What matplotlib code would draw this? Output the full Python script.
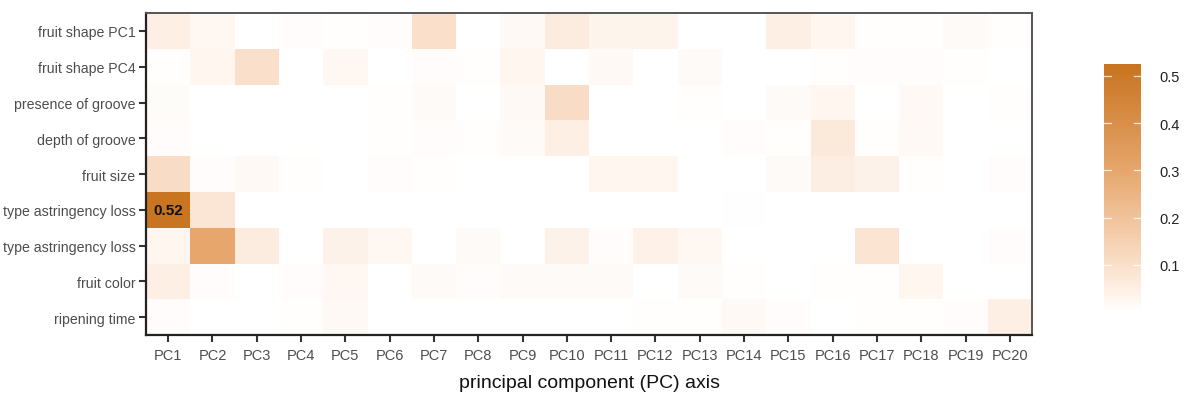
import numpy as np
import matplotlib
matplotlib.use("Agg")
import matplotlib.pyplot as plt
from matplotlib.colors import LinearSegmentedColormap, Normalize
import matplotlib.cm as cm

plt.rcParams['font.family'] = ['Liberation Sans', 'DejaVu Sans']

traits = ["fruit shape PC1", "fruit shape PC4", "presence of groove", "depth of groove",
          "fruit size", "type astringency loss", "type astringency loss", "fruit color",
          "ripening time"]
pcs = [f"PC{i}" for i in range(1, 21)]

row_shape_pc1 = [0.05, 0.025, 0.0, 0.01, 0.005, 0.01, 0.10, 0.0, 0.02, 0.06, 0.035, 0.035, 0.0, 0.0, 0.05, 0.03, 0.005, 0.005, 0.015, 0.005]
row_shape_pc4 = [0.005, 0.03, 0.10, 0.0, 0.025, 0.0, 0.01, 0.005, 0.03, 0.0, 0.02, 0.0, 0.015, 0.0, 0.0, 0.005, 0.01, 0.01, 0.005, 0.0]
row_groove_pres = [0.012, 0.0, 0.0, 0.0, 0.0, 0.005, 0.015, 0.0, 0.02, 0.11, 0.0, 0.0, 0.005, 0.0, 0.015, 0.03, 0.0, 0.02, 0.0, 0.005]
row_groove_depth = [0.01, 0.0, 0.0, 0.0, 0.0, 0.005, 0.01, 0.005, 0.015, 0.05, 0.0, 0.0, 0.0, 0.01, 0.005, 0.07, 0.005, 0.02, 0.0, 0.0]
row_size = [0.11, 0.01, 0.02, 0.005, 0.0, 0.01, 0.005, 0.0, 0.0, 0.0, 0.03, 0.03, 0.0, 0.0, 0.015, 0.055, 0.04, 0.005, 0.0, 0.01]
row_astr1 = [0.52, 0.08, 0.0, 0.0, 0.0, 0.0, 0.0, 0.0, 0.0, 0.0, 0.0, 0.0, 0.0, 0.003, 0.0, 0.0, 0.0, 0.0, 0.0, 0.0]
row_astr2 = [0.03, 0.30, 0.06, 0.0, 0.04, 0.025, 0.0, 0.015, 0.0, 0.04, 0.01, 0.045, 0.025, 0.0, 0.0, 0.0, 0.085, 0.0, 0.0, 0.01]
row_color = [0.05, 0.01, 0.0, 0.01, 0.025, 0.0, 0.015, 0.01, 0.015, 0.015, 0.015, 0.0, 0.015, 0.005, 0.0, 0.005, 0.005, 0.03, 0.0, 0.0]
row_ripen = [0.01, 0.0, 0.0, 0.005, 0.02, 0.0, 0.0, 0.0, 0.0, 0.0, 0.0, 0.005, 0.005, 0.02, 0.01, 0.0, 0.005, 0.005, 0.01, 0.05]

data = np.array([row_shape_pc1, row_shape_pc4, row_groove_pres, row_groove_depth, row_size,
                 row_astr1, row_astr2, row_color, row_ripen])

vmin, vmax = 0.0, 0.525
cmap = LinearSegmentedColormap.from_list(
    "wo", [(0.0, "#FFFFFF"), (0.1 / vmax, "#FADFC9"), (0.3 / vmax, "#E6A66C"), (1.0, "#C8731F")])
norm = Normalize(vmin=vmin, vmax=vmax)

fig = plt.figure(figsize=(12, 4.02), dpi=100)
ax = fig.add_axes([0.1217, 0.164, 0.7383, 0.801])

nr, nc = data.shape
ax.pcolormesh(np.arange(nc + 1) - 0.5, np.arange(nr + 1) - 0.5, data, cmap=cmap, norm=norm)
ax.set_xlim(-0.5, nc - 0.5)
ax.set_ylim(nr - 0.5, -0.5)

ax.set_xticks(range(nc))
ax.set_xticklabels(pcs, fontsize=10.5, color="#4D4D4D")
ax.set_yticks(range(nr))
ax.set_yticklabels(traits, fontsize=10.2, color="#4D4D4D")
ax.tick_params(axis="both", length=5, width=1.5, color="#333333")
ax.tick_params(axis="y", pad=2.5)
ax.tick_params(axis="x", pad=4)

ax.set_xlabel("principal component (PC) axis", fontsize=14, color="#111111", labelpad=9)

for s in ["left", "bottom"]:
    ax.spines[s].set_linewidth(1.6)
    ax.spines[s].set_color("#222222")
for s in ["top", "right"]:
    ax.spines[s].set_linewidth(1.4)
    ax.spines[s].set_color("#555555")

# annotate max cell
i, j = np.unravel_index(np.argmax(data), data.shape)
ax.text(j, i, f"{data[i, j]:.2f}", ha="center", va="center", fontsize=11,
        fontweight="bold", color="#111111")

# colorbar
cax = fig.add_axes([0.92, 0.2214, 0.031, 0.617])
cb = fig.colorbar(cm.ScalarMappable(norm=norm, cmap=cmap), cax=cax)
cb.outline.set_visible(False)
cb.set_ticks([0.1, 0.2, 0.3, 0.4, 0.5])
cb.ax.tick_params(length=0, labelsize=10.5, labelcolor="#222222", pad=13)
for t in [0.1, 0.2, 0.3, 0.4, 0.5]:
    cax.plot([0, 0.2], [t, t], color="white", lw=0.9, alpha=0.8, transform=cax.get_yaxis_transform())
    cax.plot([0.8, 1.0], [t, t], color="white", lw=0.9, alpha=0.8, transform=cax.get_yaxis_transform())

fig.savefig("out.png", dpi=100)
